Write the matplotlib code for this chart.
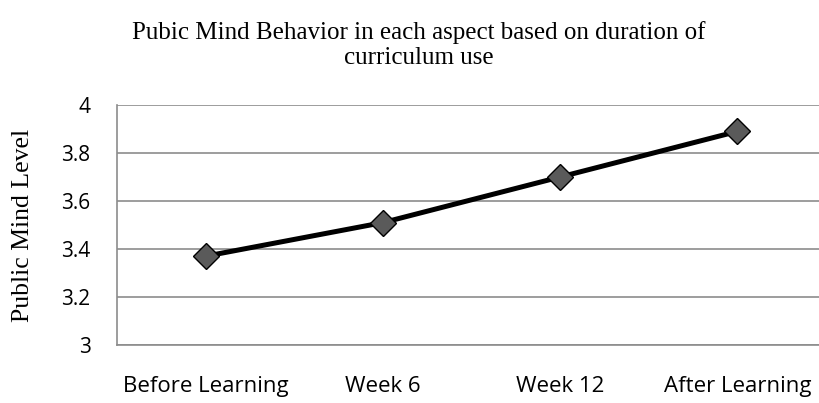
import matplotlib.pyplot as plt
import numpy as np

stages = ["Before Learning", "Week 6", "Week 12", "After Learning"]
level = [3.37, 3.51, 3.70, 3.89]
yticks = [3, 3.2, 3.4, 3.6, 3.8, 4]
ytick_labels = ["3", "3.2", "3.4", "3.6", "3.8", "4"]

fig = plt.figure(figsize=(8.19, 4.03), dpi=100)
# plot area runs past the right edge, like the cropped original
ax = fig.add_axes([117 / 819, 1 - 345 / 403, 709 / 819, 240 / 403])

x = np.arange(len(stages))
ax.plot(x, level, color="black", lw=3.6, marker="D", markersize=13,
        markerfacecolor="#5a5a5a", markeredgecolor="black", markeredgewidth=1, zorder=3)

ax.set_xlim(-0.5, 3.5)
ax.set_ylim(3, 4)
ax.set_yticks(yticks)
ax.set_yticklabels(ytick_labels, family="Open Sans", fontsize=15)
ax.set_xticks(x)
ax.set_xticklabels(stages, family="Open Sans", fontsize=16)
ax.tick_params(length=0)
ax.tick_params(axis="y", pad=19)
ax.tick_params(axis="x", pad=22)
ax.grid(axis="y", color="#8c8c8c", lw=1.2)
for s in ["top", "right"]:
    ax.spines[s].set_visible(False)
for s in ["left", "bottom"]:
    ax.spines[s].set_color("#8c8c8c")
    ax.spines[s].set_linewidth(1.2)

ax.set_ylabel("Public Mind Level", family="Liberation Serif", fontsize=18.5)
ax.yaxis.set_label_coords(-83 / 709, 0.5)
fig.text(419 / 819, 1 - 45 / 403, "Pubic Mind Behavior in each aspect based on duration of\ncurriculum use",
         ha="center", va="center", family="Liberation Serif", fontsize=18, linespacing=1.2)

fig.savefig("out.png", dpi=100)
